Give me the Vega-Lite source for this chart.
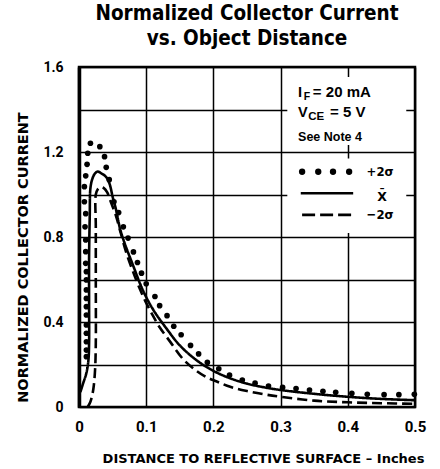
{
  "$schema": "https://vega.github.io/schema/vega-lite/v6.json",
  "width": 336,
  "height": 340,
  "autosize": {"type": "none"},
  "padding": {"left": 79, "top": 67, "right": 25, "bottom": 62},
  "background": "white",
  "config": {
    "view": {"stroke": "black", "strokeWidth": 2.5},
    "font": "Roboto"
  },
  "title": {
    "text": ["Normalized Collector Current", "vs. Object Distance"],
    "font": "DejaVu Sans Condensed, Roboto",
    "fontSize": 20.5,
    "fontWeight": "bold",
    "lineHeight": 25,
    "anchor": "middle",
    "offset": 11,
    "color": "black"
  },
  "datasets": {
    "curves": [
      {"s": "mean", "x": 0.002, "y": 0.07}, {"s": "mean", "x": 0.006, "y": 0.11}, {"s": "mean", "x": 0.011, "y": 0.16},
      {"s": "mean", "x": 0.014, "y": 0.22}, {"s": "mean", "x": 0.015, "y": 0.30}, {"s": "mean", "x": 0.015, "y": 0.50},
      {"s": "mean", "x": 0.015, "y": 0.70}, {"s": "mean", "x": 0.016, "y": 0.90}, {"s": "mean", "x": 0.017, "y": 1.03},
      {"s": "mean", "x": 0.020, "y": 1.075}, {"s": "mean", "x": 0.024, "y": 1.10}, {"s": "mean", "x": 0.028, "y": 1.108},
      {"s": "mean", "x": 0.033, "y": 1.10}, {"s": "mean", "x": 0.038, "y": 1.09}, {"s": "mean", "x": 0.042, "y": 1.075},
      {"s": "mean", "x": 0.046, "y": 1.045}, {"s": "mean", "x": 0.050, "y": 0.99}, {"s": "mean", "x": 0.055, "y": 0.93},
      {"s": "mean", "x": 0.061, "y": 0.84}, {"s": "mean", "x": 0.068, "y": 0.77}, {"s": "mean", "x": 0.080, "y": 0.67},
      {"s": "mean", "x": 0.095, "y": 0.55}, {"s": "mean", "x": 0.110, "y": 0.46}, {"s": "mean", "x": 0.130, "y": 0.37},
      {"s": "mean", "x": 0.150, "y": 0.29}, {"s": "mean", "x": 0.175, "y": 0.22}, {"s": "mean", "x": 0.200, "y": 0.17},
      {"s": "mean", "x": 0.225, "y": 0.135}, {"s": "mean", "x": 0.250, "y": 0.11}, {"s": "mean", "x": 0.275, "y": 0.093},
      {"s": "mean", "x": 0.300, "y": 0.08}, {"s": "mean", "x": 0.350, "y": 0.062}, {"s": "mean", "x": 0.400, "y": 0.048},
      {"s": "mean", "x": 0.450, "y": 0.038}, {"s": "mean", "x": 0.500, "y": 0.032},
      {"s": "minus", "x": 0.013, "y": 0.0}, {"s": "minus", "x": 0.017, "y": 0.025}, {"s": "minus", "x": 0.020, "y": 0.06},
      {"s": "minus", "x": 0.022, "y": 0.10}, {"s": "minus", "x": 0.024, "y": 0.18}, {"s": "minus", "x": 0.025, "y": 0.30},
      {"s": "minus", "x": 0.025, "y": 0.60}, {"s": "minus", "x": 0.025, "y": 0.85}, {"s": "minus", "x": 0.025, "y": 1.0},
      {"s": "minus", "x": 0.028, "y": 1.025}, {"s": "minus", "x": 0.032, "y": 1.035}, {"s": "minus", "x": 0.037, "y": 1.03},
      {"s": "minus", "x": 0.042, "y": 1.01}, {"s": "minus", "x": 0.048, "y": 0.96}, {"s": "minus", "x": 0.055, "y": 0.90},
      {"s": "minus", "x": 0.062, "y": 0.82}, {"s": "minus", "x": 0.070, "y": 0.73}, {"s": "minus", "x": 0.080, "y": 0.64},
      {"s": "minus", "x": 0.090, "y": 0.56}, {"s": "minus", "x": 0.100, "y": 0.49}, {"s": "minus", "x": 0.110, "y": 0.43},
      {"s": "minus", "x": 0.120, "y": 0.375}, {"s": "minus", "x": 0.135, "y": 0.31}, {"s": "minus", "x": 0.155, "y": 0.225},
      {"s": "minus", "x": 0.175, "y": 0.17}, {"s": "minus", "x": 0.190, "y": 0.14}, {"s": "minus", "x": 0.205, "y": 0.12},
      {"s": "minus", "x": 0.225, "y": 0.095}, {"s": "minus", "x": 0.250, "y": 0.075}, {"s": "minus", "x": 0.275, "y": 0.06},
      {"s": "minus", "x": 0.300, "y": 0.048}, {"s": "minus", "x": 0.350, "y": 0.03}, {"s": "minus", "x": 0.400, "y": 0.022},
      {"s": "minus", "x": 0.450, "y": 0.018}, {"s": "minus", "x": 0.500, "y": 0.015}
    ],
    "dots": [
      {"x": 0.017, "y": 1.241}, {"x": 0.031, "y": 1.225}, {"x": 0.013, "y": 1.194}, {"x": 0.038, "y": 1.178},
      {"x": 0.012, "y": 1.142}, {"x": 0.0405, "y": 1.128}, {"x": 0.045, "y": 1.07}, {"x": 0.010, "y": 1.088},
      {"x": 0.008, "y": 1.037}, {"x": 0.008, "y": 0.966}, {"x": 0.010, "y": 0.91}, {"x": 0.009, "y": 0.848},
      {"x": 0.010, "y": 0.786}, {"x": 0.010, "y": 0.731}, {"x": 0.010, "y": 0.676}, {"x": 0.011, "y": 0.637},
      {"x": 0.011, "y": 0.598}, {"x": 0.011, "y": 0.551}, {"x": 0.011, "y": 0.511}, {"x": 0.011, "y": 0.472},
      {"x": 0.011, "y": 0.433}, {"x": 0.011, "y": 0.386}, {"x": 0.011, "y": 0.347}, {"x": 0.011, "y": 0.307},
      {"x": 0.011, "y": 0.268}, {"x": 0.011, "y": 0.237},
      {"x": 0.052, "y": 0.966}, {"x": 0.059, "y": 0.915}, {"x": 0.066, "y": 0.848}, {"x": 0.073, "y": 0.795},
      {"x": 0.081, "y": 0.73}, {"x": 0.087, "y": 0.68}, {"x": 0.093, "y": 0.63}, {"x": 0.100, "y": 0.58},
      {"x": 0.113, "y": 0.52}, {"x": 0.120, "y": 0.477}, {"x": 0.131, "y": 0.43}, {"x": 0.141, "y": 0.38},
      {"x": 0.152, "y": 0.34}, {"x": 0.166, "y": 0.29}, {"x": 0.178, "y": 0.25}, {"x": 0.191, "y": 0.21},
      {"x": 0.208, "y": 0.18}, {"x": 0.224, "y": 0.15}, {"x": 0.243, "y": 0.127}, {"x": 0.262, "y": 0.112},
      {"x": 0.282, "y": 0.099}, {"x": 0.303, "y": 0.092}, {"x": 0.323, "y": 0.087}, {"x": 0.343, "y": 0.08},
      {"x": 0.363, "y": 0.074}, {"x": 0.382, "y": 0.069}, {"x": 0.406, "y": 0.064}, {"x": 0.429, "y": 0.06},
      {"x": 0.454, "y": 0.058}, {"x": 0.476, "y": 0.058}, {"x": 0.499, "y": 0.06}
    ],
    "legendDots": [{"x": 0.332}, {"x": 0.356}, {"x": 0.378}, {"x": 0.402}],
    "one": [{}]
  },
  "layer": [
    {
      "data": {"name": "one"},
      "mark": {"type": "rect", "fill": "white", "strokeWidth": 0},
      "encoding": {
        "x": {"datum": 0.31, "type": "quantitative", "scale": {"domain": [0, 0.5], "nice": false, "zero": false},
          "axis": {
            "title": "DISTANCE TO REFLECTIVE SURFACE – Inches",
            "values": [0, 0.05, 0.1, 0.15, 0.2, 0.25, 0.3, 0.35, 0.4, 0.45, 0.5],
            "labelExpr": "datum.value == 0 ? '0' : (round(datum.value * 20) % 2 == 0 ? format(datum.value, '.1f') : '')",
            "grid": true, "gridColor": "black", "gridWidth": 1.5, "gridOpacity": 1,
            "ticks": false, "tickSize": 0, "domain": false,
            "labelFont": "Roboto", "labelFontSize": 15, "labelFontWeight": "bold", "labelColor": "black",
            "labelPadding": 12, "labelFlush": false,
            "titleFont": "DejaVu Sans", "titleFontSize": 13, "titleFontWeight": "bold", "titleColor": "black",
            "titleX": 184, "titleY": 51, "titleBaseline": "middle", "titleAlign": "center"
          }
        },
        "x2": {"datum": 0.487},
        "y": {"datum": 1.233, "type": "quantitative", "scale": {"domain": [0, 1.6], "nice": false, "zero": false},
          "axis": {
            "title": "NORMALIZED COLLECTOR CURRENT",
            "values": [0, 0.2, 0.4, 0.6, 0.8, 1.0, 1.2, 1.4, 1.6],
            "labelExpr": "datum.value == 0 ? '0' : (round(datum.value * 5) % 2 == 0 ? format(datum.value, '.1f') : '')",
            "grid": true, "gridColor": "black", "gridWidth": 1.5, "gridOpacity": 1,
            "ticks": false, "tickSize": 0,
            "domain": true, "domainColor": "black", "domainWidth": 3.5,
            "labelFont": "Roboto", "labelFontSize": 14, "labelFontWeight": "bold", "labelColor": "black",
            "labelPadding": 16, "labelFlush": false,
            "titleFont": "DejaVu Sans", "titleFontSize": 14.5, "titleFontWeight": "bold", "titleColor": "black",
            "titleAngle": -90, "titleX": -56, "titleY": 190, "titleBaseline": "middle", "titleAlign": "center"
          }
        },
        "y2": {"datum": 1.553}
      }
    },
    {
      "data": {"name": "one"},
      "mark": {"type": "rect", "fill": "white", "strokeWidth": 0},
      "encoding": {
        "x": {"datum": 0.31, "type": "quantitative"},
        "x2": {"datum": 0.487},
        "y": {"datum": 0.819, "type": "quantitative"},
        "y2": {"datum": 1.170}
      }
    },
    {
      "data": {"name": "curves"},
      "mark": {"type": "line", "color": "black", "strokeWidth": 2.6, "interpolate": "catmull-rom"},
      "encoding": {
        "x": {"field": "x", "type": "quantitative"},
        "y": {"field": "y", "type": "quantitative"},
        "strokeDash": {"field": "s", "type": "nominal", "scale": {"domain": ["mean", "minus"], "range": [[1, 0], [10, 5]]}, "legend": null},
        "order": {"value": null}
      }
    },
    {
      "data": {"name": "dots"},
      "mark": {"type": "circle", "color": "black", "size": 32, "opacity": 1},
      "encoding": {
        "x": {"field": "x", "type": "quantitative"},
        "y": {"field": "y", "type": "quantitative"}
      }
    },
    {
      "data": {"name": "legendDots"},
      "mark": {"type": "circle", "color": "black", "size": 40, "opacity": 1},
      "encoding": {
        "x": {"field": "x", "type": "quantitative"},
        "y": {"datum": 1.107, "type": "quantitative"}
      }
    },
    {
      "data": {"name": "one"},
      "mark": {"type": "rule", "color": "black", "strokeWidth": 2.6},
      "encoding": {
        "x": {"datum": 0.330, "type": "quantitative"}, "x2": {"datum": 0.408},
        "y": {"datum": 1.006, "type": "quantitative"}
      }
    },
    {
      "data": {"name": "one"},
      "mark": {"type": "rule", "color": "black", "strokeWidth": 2.6, "strokeDash": [13, 5]},
      "encoding": {
        "x": {"datum": 0.332, "type": "quantitative"}, "x2": {"datum": 0.406},
        "y": {"datum": 0.904, "type": "quantitative"}
      }
    },
    {
      "data": {"name": "one"},
      "mark": {"type": "text", "text": "+2σ", "font": "DejaVu Sans Condensed", "fontWeight": "bold", "fontSize": 13, "align": "left", "baseline": "middle", "color": "black"},
      "encoding": {"x": {"datum": 0.428, "type": "quantitative"}, "y": {"datum": 1.107, "type": "quantitative"}}
    },
    {
      "data": {"name": "one"},
      "mark": {"type": "text", "text": "X̄", "font": "DejaVu Sans", "fontWeight": "bold", "fontSize": 12.5, "align": "center", "baseline": "middle", "color": "black"},
      "encoding": {"x": {"datum": 0.451, "type": "quantitative"}, "y": {"datum": 0.99, "type": "quantitative"}}
    },
    {
      "data": {"name": "one"},
      "mark": {"type": "text", "text": "−2σ", "font": "DejaVu Sans Condensed", "fontWeight": "bold", "fontSize": 13, "align": "left", "baseline": "middle", "color": "black"},
      "encoding": {"x": {"datum": 0.428, "type": "quantitative"}, "y": {"datum": 0.904, "type": "quantitative"}}
    },
    {
      "data": {"name": "one"},
      "mark": {"type": "text", "text": "I", "font": "Liberation Sans", "fontWeight": "bold", "fontSize": 14.5, "align": "left", "baseline": "alphabetic", "color": "black"},
      "encoding": {"x": {"datum": 0.326, "type": "quantitative"}, "y": {"datum": 1.459, "type": "quantitative"}}
    },
    {
      "data": {"name": "one"},
      "mark": {"type": "text", "text": "F", "font": "Liberation Sans", "fontWeight": "bold", "fontSize": 10.5, "align": "left", "baseline": "alphabetic", "color": "black"},
      "encoding": {"x": {"datum": 0.3345, "type": "quantitative"}, "y": {"datum": 1.447, "type": "quantitative"}}
    },
    {
      "data": {"name": "one"},
      "mark": {"type": "text", "text": "= 20 mA", "font": "Liberation Sans", "fontWeight": "bold", "fontSize": 15, "align": "left", "baseline": "alphabetic", "color": "black"},
      "encoding": {"x": {"datum": 0.348, "type": "quantitative"}, "y": {"datum": 1.459, "type": "quantitative"}}
    },
    {
      "data": {"name": "one"},
      "mark": {"type": "text", "text": "V", "font": "Liberation Sans", "fontWeight": "bold", "fontSize": 14.5, "align": "left", "baseline": "alphabetic", "color": "black"},
      "encoding": {"x": {"datum": 0.326, "type": "quantitative"}, "y": {"datum": 1.365, "type": "quantitative"}}
    },
    {
      "data": {"name": "one"},
      "mark": {"type": "text", "text": "CE", "font": "Liberation Sans", "fontWeight": "bold", "fontSize": 11.5, "align": "left", "baseline": "alphabetic", "color": "black"},
      "encoding": {"x": {"datum": 0.341, "type": "quantitative"}, "y": {"datum": 1.35, "type": "quantitative"}}
    },
    {
      "data": {"name": "one"},
      "mark": {"type": "text", "text": "= 5 V", "font": "Liberation Sans", "fontWeight": "bold", "fontSize": 15, "align": "left", "baseline": "alphabetic", "color": "black"},
      "encoding": {"x": {"datum": 0.3735, "type": "quantitative"}, "y": {"datum": 1.365, "type": "quantitative"}}
    },
    {
      "data": {"name": "one"},
      "mark": {"type": "text", "text": "See Note 4", "font": "Liberation Sans", "fontWeight": "bold", "fontSize": 12.5, "align": "left", "baseline": "alphabetic", "color": "black"},
      "encoding": {"x": {"datum": 0.326, "type": "quantitative"}, "y": {"datum": 1.252, "type": "quantitative"}}
    }
  ]
}
